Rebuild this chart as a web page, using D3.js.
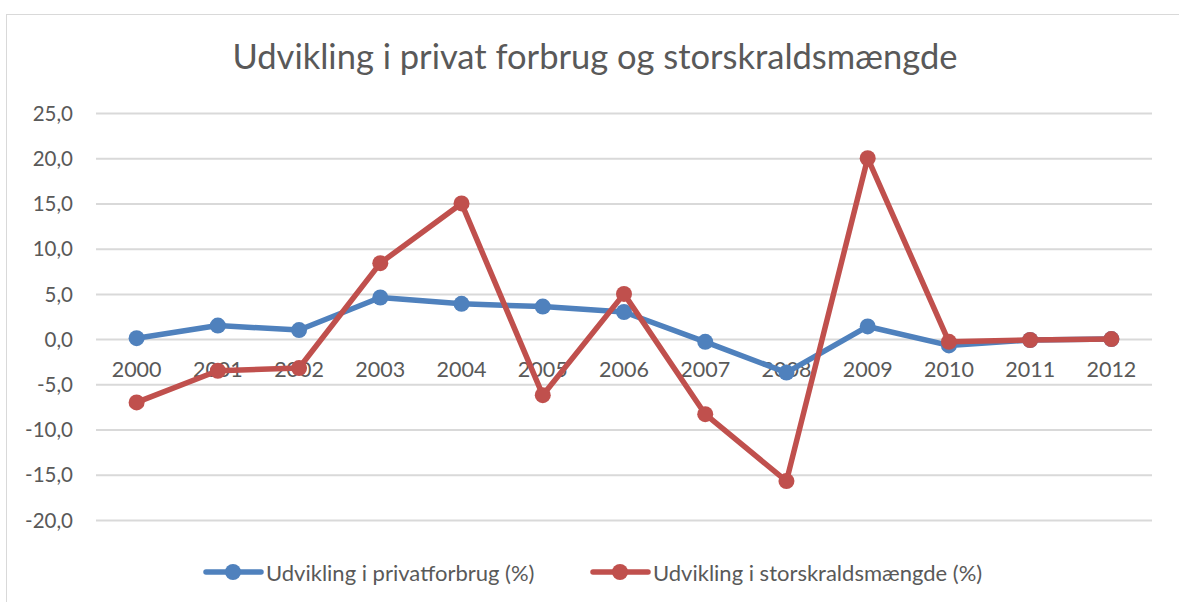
<!DOCTYPE html>
<html><head><meta charset="utf-8">
<script src="https://d3js.org/d3.v7.min.js"></script>
<style>body{margin:0;background:#fff;} text{font-family:Lato,"Open Sans",sans-serif;fill:#595959;}</style>
</head><body>
<svg id="c" width="1179" height="602"></svg>
<script>
const years = ["2000","2001","2002","2003","2004","2005","2006","2007","2008","2009","2010","2011","2012"];
const privatforbrug = [0.1,1.5,1.0,4.6,3.9,3.6,3.0,-0.3,-3.7,1.4,-0.7,-0.1,0.0];
const storskrald = [-7.0,-3.5,-3.2,8.4,15.0,-6.2,5.0,-8.3,-15.7,20.0,-0.3,-0.1,0.0];
const yTicks = [25,20,15,10,5,0,-5,-10,-15,-20];
const seriesNames = ["Udvikling i privatforbrug (%)","Udvikling i storskraldsmængde (%)"];
const colors = ["#4F81BD","#C0504D"];
const title = "Udvikling i privat forbrug og storskraldsmængde";

const svg = d3.select("#c");
svg.append("rect").attr("x",6.5).attr("y",14.5).attr("width",1200).attr("height",620)
  .attr("fill","#fff").attr("stroke","#d9d9d9").attr("stroke-width",1);

const L=96,R=1152,T=113,B=520;
const x = d3.scaleBand().domain(years).range([L,R]);
const y = d3.scaleLinear().domain([-20,25]).range([B,T]);
const fmt = v => d3.format(".1f")(v).replace(".",",").replace("−","-");

const yAxis = svg.append("g").attr("transform",`translate(${L},0)`)
  .call(d3.axisLeft(y).tickValues(yTicks).tickSize(-(R-L)).tickFormat(fmt).tickPadding(23));
yAxis.select(".domain").remove();
yAxis.selectAll("line").attr("stroke","#d9d9d9").attr("stroke-width",2);
yAxis.selectAll("text").style("font-size","20.5px").attr("fill","#595959").attr("dy","0.35em");

const xAxis = svg.append("g").attr("transform",`translate(0,${y(0)})`)
  .call(d3.axisBottom(x).tickSize(0).tickPadding(23));
xAxis.select(".domain").remove();
xAxis.selectAll("text").style("font-size","21.5px").attr("fill","#595959");

svg.append("text").attr("x",595).attr("y",69).attr("text-anchor","middle")
  .style("font-size","34.5px").text(title);

const cx = d => x(d)+x.bandwidth()/2;
[privatforbrug,storskrald].forEach((s,i)=>{
  const line = d3.line().x((d,j)=>cx(years[j])).y(d=>y(d));
  svg.append("path").datum(s).attr("d",line).attr("fill","none")
    .attr("stroke",colors[i]).attr("stroke-width",5.5).attr("stroke-linejoin","round");
  svg.selectAll(null).data(s).enter().append("circle")
    .attr("cx",(d,j)=>cx(years[j])).attr("cy",d=>y(d)).attr("r",8).attr("fill",colors[i]);
});

const legX=[206,593];
seriesNames.forEach((n,i)=>{
  const g=svg.append("g");
  g.append("line").attr("x1",legX[i]).attr("x2",legX[i]+55).attr("y1",572).attr("y2",572)
    .attr("stroke",colors[i]).attr("stroke-width",5.5).attr("stroke-linecap","round");
  g.append("circle").attr("cx",legX[i]+27).attr("cy",572).attr("r",8).attr("fill",colors[i]);
  g.append("text").attr("x",legX[i]+60).attr("y",573).attr("dy","0.35em").style("font-size","22px").text(n);
});
</script>
</body></html>
